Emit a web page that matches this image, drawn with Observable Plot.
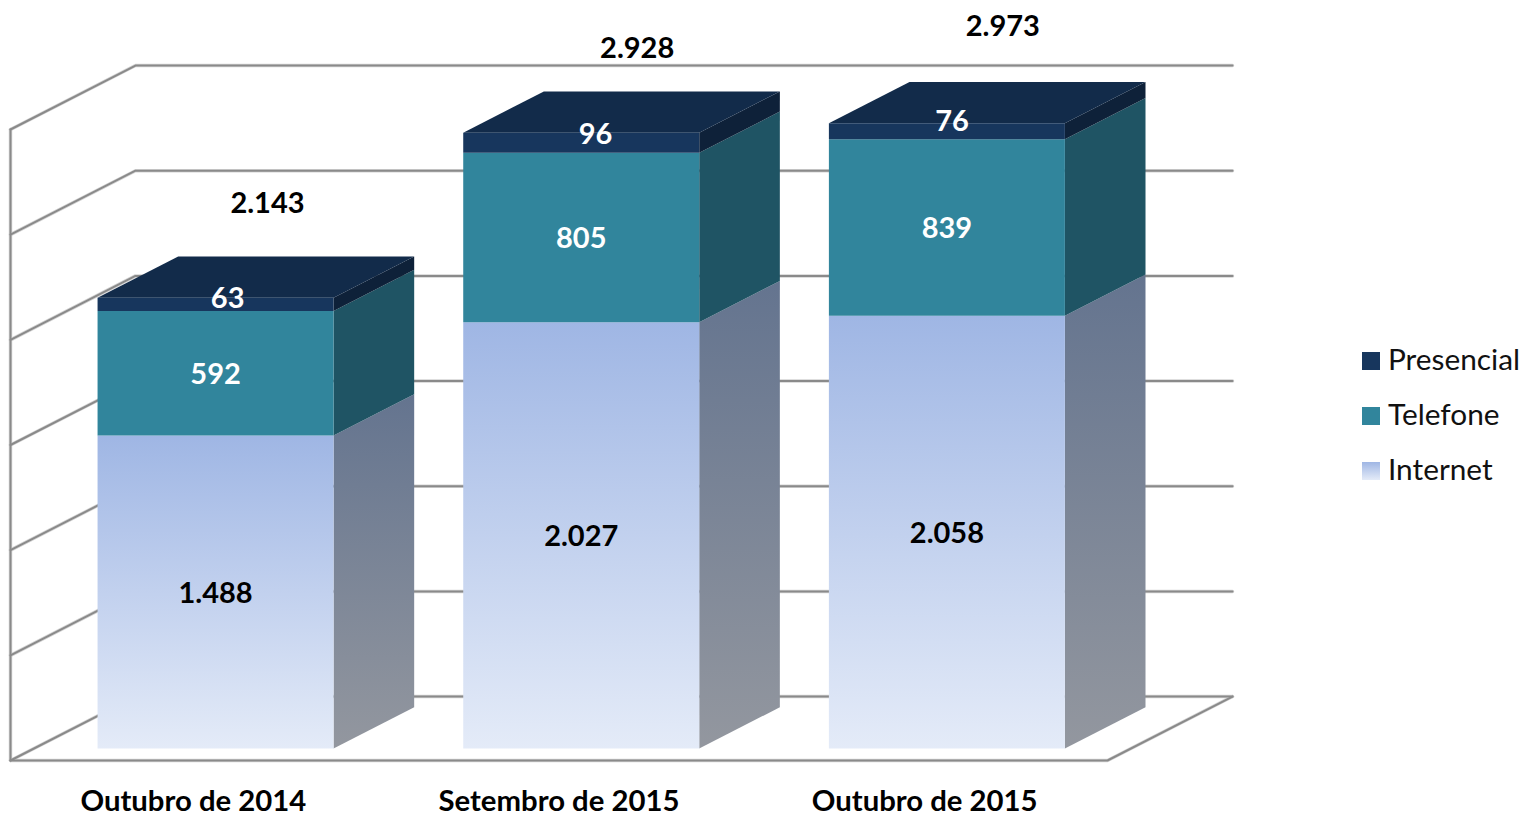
<!DOCTYPE html>
<html lang="pt">
<head>
<meta charset="utf-8">
<script src="https://cdn.jsdelivr.net/npm/d3@7"></script>
<script src="https://cdn.jsdelivr.net/npm/@observablehq/plot@0.6"></script>
<style>
  html, body { margin: 0; padding: 0; background: #fff; overflow: hidden; }
  #wrap { position: relative; width: 1523px; height: 814px; font-family: Lato, "Noto Sans", sans-serif; }
  #legend { position: absolute; left: 1362px; top: 331px; }
  #legend div { display: flex; align-items: center; height: 55px; font-size: 29.8px; color: #111; }
  #legend i { display: block; width: 18px; height: 18px; margin-right: 8px; position: relative; top: 2px; }
</style>
</head>
<body>
<div id="wrap"></div>
<script>
// Data
const categories = ["Outubro de 2014", "Setembro de 2015", "Outubro de 2015"];
const internet   = [1488, 2027, 2058];
const telefone   = [592, 805, 839];
const presencial = [63, 96, 76];
const totals     = [2143, 2928, 2973];
const gridValues = [0, 500, 1000, 1500, 2000, 2500, 3000];
const legendItems = ["Presencial", "Telefone", "Internet"];

// Oblique projection, in data units: one full step of chart depth
const depthX = 0.3418, depthY = 304;
const barFrontDepth = 0.1875, barDepth = 0.645;
const barStart = 0.174, barWidth = 0.6454;
// Label nudges as they appear in the picture (x units, value units)
const presencialShiftX = [0.033, 0.039, 0.014];
const presencialShiftY = [35, 45, 50];
const totalShiftX = [0.142, 0.153, 0.153];
const totalShiftY = [455, 405, 465];

const fmt = d3.formatLocale({decimal: ",", thousands: ".", grouping: [3], currency: ["", ""]}).format(",");

const colors = {
  teal: "#31859c", tealSide: "#1f5464",
  navy: "#17365d", navyTop: "#122b4a", navySide: "#0e2139"
};

const project = (x, v, d) => ({x: x + d * depthX, y: v + d * depthY});
const poly = (id, corners) => corners.map(([x, v, d]) => ({id, ...project(x, v, d)}));

const fronts = {internet: [], telefone: [], presencial: []};
const sides  = {internet: [], telefone: [], presencial: []};
const tops = [];
const labels = [];
categories.forEach((c, i) => {
  const x0 = i + barStart, x1 = x0 + barWidth;
  const d0 = barFrontDepth, d1 = barFrontDepth + barDepth;
  let base = 0;
  [["internet", internet[i]], ["telefone", telefone[i]], ["presencial", presencial[i]]].forEach(([key, v]) => {
    const top = base + v;
    fronts[key].push(...poly(`${key}f${i}`, [[x0, base, d0], [x1, base, d0], [x1, top, d0], [x0, top, d0]]));
    sides[key].push(...poly(`${key}s${i}`, [[x1, base, d0], [x1, base, d1], [x1, top, d1], [x1, top, d0]]));
    const isPres = key === "presencial";
    const p = project((x0 + x1) / 2 + (isPres ? presencialShiftX[i] : 0), base + v / 2 + (isPres ? presencialShiftY[i] : 0), d0);
    labels.push({...p, text: fmt(v), fill: key === "internet" ? "#000" : "#fff"});
    base = top;
  });
  tops.push(...poly(`t${i}`, [[x0, base, d0], [x1, base, d0], [x1, base, d1], [x0, base, d1]]));
  labels.push({...project((x0 + x1) / 2 + totalShiftX[i], totals[i] + totalShiftY[i], d0), text: fmt(totals[i]), fill: "#000"});
});

// Walls: each gridline runs along the left wall then along the back wall
const wallLines = gridValues.flatMap(v => poly(`w${v}`, [[0, v, 0], [0, v, 1], [3, v, 1]]));
const frame = [
  ...poly("left", [[0, 0, 0], [0, 3000, 0]]),
  ...poly("floor", [[0, 0, 0], [3, 0, 0], [3, 0, 1]])
];
const allLines = [...wallLines, ...frame];

const gradients = () => {
  const g = document.createElementNS("http://www.w3.org/2000/svg", "g");
  g.innerHTML = `<defs>
    <linearGradient id="gradFront" x1="0" y1="0" x2="0" y2="1">
      <stop offset="0" stop-color="#9fb6e4"/><stop offset="1" stop-color="#e4ebf8"/>
    </linearGradient>
    <linearGradient id="gradSide" x1="0" y1="0" x2="0" y2="1">
      <stop offset="0" stop-color="#64748f"/><stop offset="1" stop-color="#93979f"/>
    </linearGradient>
  </defs>`;
  return g;
};

const polyMark = (data, fill) => Plot.line(data, {x: "x", y: "y", z: "id", fill, stroke: "none"});

const chart = Plot.plot({
  width: 1523, height: 814,
  marginLeft: 10, marginRight: 416, marginTop: 129, marginBottom: 54,
  x: {domain: [0, 3], axis: null},
  y: {domain: [0, 3000], axis: null},
  style: {fontFamily: "Lato, 'Noto Sans', sans-serif", background: "#fff", overflow: "visible"},
  marks: [
    gradients,
    Plot.line(allLines, {x: "x", y: "y", z: "id", stroke: "#d4d4d4", strokeWidth: 3.5, strokeLinejoin: "miter"}),
    Plot.line(allLines, {x: "x", y: "y", z: "id", stroke: "#8a8a8a", strokeWidth: 2, strokeLinejoin: "miter"}),
    polyMark(sides.internet, "url(#gradSide)"),
    polyMark(sides.telefone, colors.tealSide),
    polyMark(sides.presencial, colors.navySide),
    polyMark(tops, colors.navyTop),
    polyMark(fronts.internet, "url(#gradFront)"),
    polyMark(fronts.telefone, colors.teal),
    polyMark(fronts.presencial, colors.navy),
    Plot.text(labels, {x: "x", y: "y", dy: 1.5, text: "text", fill: "fill", fontSize: 29, fontWeight: 700}),
    Plot.axisX({
      ticks: [0.5, 1.5, 2.5],
      tickFormat: t => categories[Math.floor(t)],
      tickSize: 0, tickPadding: 29.5, fontSize: 29.3, fontWeight: 700, fill: "#000", label: null,
      lineAnchor: "top", anchor: "bottom"
    })
  ]
});

const wrap = document.getElementById("wrap");
wrap.appendChild(chart);

const legend = document.createElement("div");
legend.id = "legend";
const legendFills = ["#17365d", "#31859c", "linear-gradient(#9fb6e4, #e4ebf8)"];
legendItems.forEach((name, i) => {
  const row = document.createElement("div");
  const sw = document.createElement("i");
  sw.style.background = legendFills[i];
  row.appendChild(sw);
  row.appendChild(document.createTextNode(name));
  legend.appendChild(row);
});
wrap.appendChild(legend);
</script>
</body>
</html>
